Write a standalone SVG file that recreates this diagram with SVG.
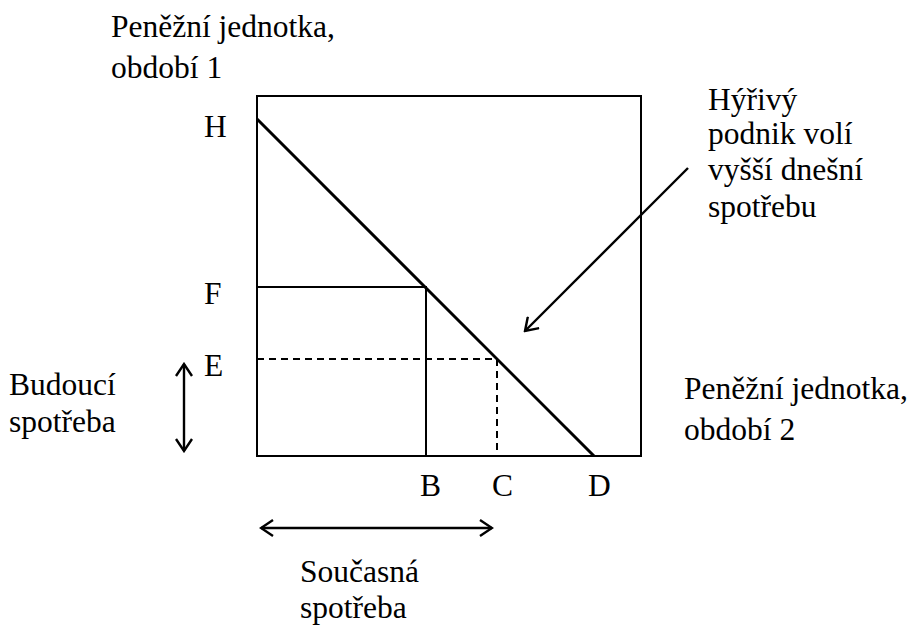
<svg xmlns="http://www.w3.org/2000/svg" width="914" height="634" viewBox="0 0 914 634">
<defs>
<style>
text{font-family:'Liberation Serif','Tinos','DejaVu Serif','Noto Serif',serif;font-size:31.5px;fill:#000}
.ln{stroke:#000;fill:none;stroke-width:2}
.dash{stroke:#000;fill:none;stroke-width:2;stroke-dasharray:7,5}
.arr{stroke:#000;fill:none;stroke-width:2.4;marker-end:url(#ah)}
.dbl{stroke:#000;fill:none;stroke-width:2.4;marker-start:url(#ahs);marker-end:url(#ah)}
</style>
<marker id="ah" viewBox="-14 -9 16 18" refX="0" refY="0" markerWidth="16" markerHeight="18" markerUnits="userSpaceOnUse" orient="auto">
<polyline points="-12,-8 0,0 -12,8" fill="none" stroke="#000" stroke-width="2.4"/>
</marker>
<marker id="ahs" viewBox="-2 -9 16 18" refX="0" refY="0" markerWidth="16" markerHeight="18" markerUnits="userSpaceOnUse" orient="auto">
<polyline points="12,-8 0,0 12,8" fill="none" stroke="#000" stroke-width="2.4"/>
</marker>
</defs>
<rect width="914" height="634" fill="#fff"/>
<g id="frame">
<rect x="257" y="96" width="384" height="360" class="ln"/>
</g>
<g id="connectors">
<line x1="257" y1="119" x2="594" y2="456" stroke="#000" stroke-width="3"/>
<polyline points="257,287 426,287 426,456" class="ln"/>
<polyline points="257,359 497,359 497,456" class="dash"/>
<line x1="688" y1="168" x2="525" y2="331" class="arr"/>
<line x1="184" y1="364" x2="184" y2="451" class="dbl"/>
<line x1="261" y1="528" x2="492" y2="528" class="dbl"/>
</g>
<g font-family="Liberation Serif, serif">
<g id="axis-y-label"><text x="111" y="37">Peněžní jednotka,</text><text x="111" y="78">období 1</text></g>
<g id="axis-x-label"><text x="684" y="399">Peněžní jednotka,</text><text x="684" y="440">období 2</text></g>
<g id="note"><text x="708" y="110">Hýřivý</text><text x="708" y="144">podnik volí</text><text x="708" y="180">vyšší dnešní</text><text x="708" y="217">spotřebu</text></g>
<g id="future"><text x="9" y="395">Budoucí</text><text x="9" y="432">spotřeba</text></g>
<g id="current"><text x="300" y="582">Současná</text><text x="300" y="618">spotřeba</text></g>
<g id="labels">
<text x="204" y="137">H</text>
<text x="204" y="304">F</text>
<text x="204" y="376">E</text>
<text x="420" y="496">B</text>
<text x="492" y="496">C</text>
<text x="588" y="496">D</text>
</g>
</g>
</svg>
